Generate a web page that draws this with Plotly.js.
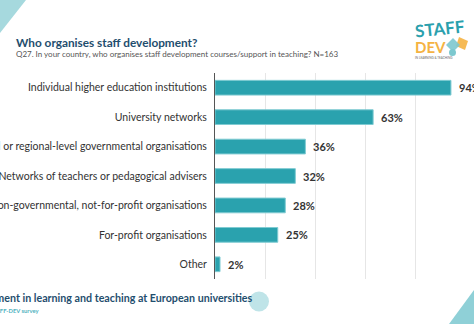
<!DOCTYPE html>
<html>
<head>
<meta charset="utf-8">
<script src="https://cdn.plot.ly/plotly-3.0.1.min.js"></script>
<style>html,body{margin:0;padding:0;background:#fff;}#chart{width:474px;height:324px;}</style>
</head>
<body>
<div id="chart"></div>
<script>
var categories = [
  "Individual higher education institutions",
  "University networks",
  "National or regional-level governmental organisations",
  "Networks of teachers or pedagogical advisers",
  "Non-governmental, not-for-profit organisations",
  "For-profit organisations",
  "Other"
];
var percentages = [94, 63, 36, 32, 28, 25, 2];
var chartTitle = "Who organises staff development?";
var chartSubtitle = "Q27. In your country, who organises staff development courses/support in teaching? N=163";
var footerTitle = "Staff development in learning and teaching at European universities";
var footerSource = "Source: STAFF-DEV survey";

var W = 474, H = 324;
var M = {l: 215, r: 8, t: 73, b: 45};
var pw = W - M.l - M.r, ph = H - M.t - M.b;
function px(x){ return (x - M.l) / pw; }
function py(y){ return (H - M.b - y) / ph; }

var FONT = "Lato, 'Noto Sans', sans-serif";
var NAVY = "#1f4e6e";

var annotations = percentages.map(function(v, i){
  return {x: v, y: categories[i], xref: 'x', yref: 'y', text: v + '%', showarrow: false,
    xanchor: 'left', xshift: 6, font: {family: FONT, size: 11, color: '#333333', weight: 700}};
});

annotations.push(
  {xref:'paper', yref:'paper', x: px(14), y: py(42), text: '<b>' + chartTitle + '</b>', showarrow:false,
   xanchor:'left', yanchor:'middle', font:{family: FONT, size: 11.8, color: NAVY, weight: 900}},
  {xref:'paper', yref:'paper', x: px(14), y: py(54), text: chartSubtitle, showarrow:false,
   xanchor:'left', yanchor:'middle', font:{family: FONT, size: 8, color: '#555555'}},
  {xref:'paper', yref:'paper', x: px(255), y: py(297), text: '<b>' + footerTitle + '</b>', showarrow:false,
   xanchor:'right', yanchor:'middle', font:{family: FONT, size: 10.7, color: NAVY, weight: 900}},
  {xref:'paper', yref:'paper', x: px(41), y: py(310), text: '<b>' + footerSource + '</b>', showarrow:false,
   xanchor:'right', yanchor:'middle', font:{family: FONT, size: 5.8, color: '#4fb3bf'}},
  {xref:'paper', yref:'paper', x: px(440), y: py(28), text: '<b>STAFF</b>', showarrow:false, textangle: -6,
   xanchor:'center', yanchor:'middle', font:{family: FONT, size: 17, color: '#2aa0ad'}},
  {xref:'paper', yref:'paper', x: px(413), y: py(47), text: '<b>DEV</b>', showarrow:false,
   xanchor:'left', yanchor:'middle', font:{family: FONT, size: 15, color: '#f5b342'}},
  {xref:'paper', yref:'paper', x: px(413), y: py(58), text: 'IN LEARNING &amp; TEACHING', showarrow:false,
   xanchor:'left', yanchor:'middle', font:{family: FONT, size: 3, color: '#666666'}}
);

function tri(points){
  return 'M ' + points.map(function(p){ return px(p[0]) + ',' + py(p[1]); }).join(' L ') + ' Z';
}
var shapes = [
  {type:'path', xref:'paper', yref:'paper', path: tri([[0,0],[26,0],[0,33]]), fillcolor:'#a6d9de', line:{width:0}, layer:'below'},
  {type:'path', xref:'paper', yref:'paper', path: tri([[449,324],[474,290],[474,324]]), fillcolor:'#8fd0d7', line:{width:0}, layer:'below'},
  {type:'circle', xref:'paper', yref:'paper', x0: px(249), x1: px(269), y0: py(311.5), y1: py(291.5), fillcolor:'#bfe4e8', line:{width:0}, layer:'below'},
  {type:'path', xref:'paper', yref:'paper', path: tri([[459,37],[468,41],[465,50],[456,46]]), fillcolor:'#f5b342', line:{width:0}, opacity:0.9},
  {type:'path', xref:'paper', yref:'paper', path: tri([[453,38],[460,45],[453,52],[446,45]]), fillcolor:'#7cc8cf', line:{width:0}, opacity:0.9},
  {type:'circle', xref:'paper', yref:'paper', x0: px(449), x1: px(456), y0: py(56), y1: py(49), fillcolor:'#7cc8cf', line:{width:0}}
];

var trace = {
  type: 'bar', orientation: 'h',
  x: percentages, y: categories,
  marker: {color: '#2aa2ae', line: {color: '#7fcbd2', width: 1}},
  hoverinfo: 'none'
};

var layout = {
  width: W, height: H,
  margin: M,
  paper_bgcolor: '#ffffff', plot_bgcolor: '#ffffff',
  showlegend: false,
  bargap: 0.5,
  font: {family: FONT, color: '#333333'},
  xaxis: {range: [0, 100], dtick: 20, showticklabels: false, showgrid: true, gridcolor: '#e6e6e6', gridwidth: 1,
          zeroline: false, showline: false, fixedrange: true},
  yaxis: {autorange: 'reversed', showline: true, linecolor: '#555555', linewidth: 1, ticks: '',
          ticklabelstandoff: 5, tickfont: {family: FONT, size: 10.5, color: '#333333'}, automargin: false, fixedrange: true},
  annotations: annotations,
  shapes: shapes
};

Plotly.newPlot('chart', [trace], layout, {displayModeBar: false, staticPlot: true});
</script>
</body>
</html>
